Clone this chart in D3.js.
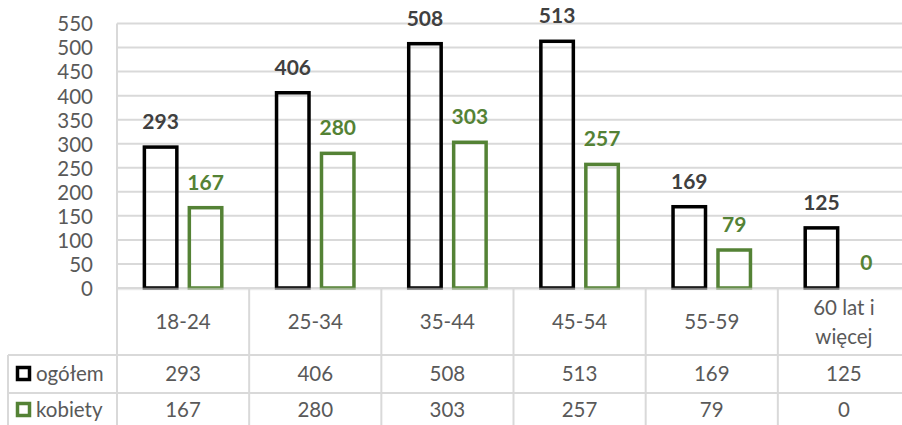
<!DOCTYPE html>
<html>
<head>
<meta charset="utf-8">
<script src="https://cdn.jsdelivr.net/npm/d3@7"></script>
<style>
	body { margin: 0; background: #fff; }
	text { font-family: Lato, "Open Sans", sans-serif; }
</style>
</head>
<body>
<script>
var categories = ["18-24", "25-34", "35-44", "45-54", "55-59", "60 lat i\nwięcej"];
var seriesNames = ["ogółem", "kobiety"];
var ogolem = [293, 406, 508, 513, 169, 125];
var kobiety = [167, 280, 303, 257, 79, 0];
var yTicks = [0, 50, 100, 150, 200, 250, 300, 350, 400, 450, 500, 550];

var w = 902, h = 425;
var colors = { "ogółem": "#000000", "kobiety": "#548235" };
var labelColors = { "ogółem": "#404040", "kobiety": "#548235" };
var values = { "ogółem": ogolem, "kobiety": kobiety };

var svg = d3.select("body")
	.append("svg")
	.attr("width", w)
	.attr("height", h)
	.attr("class", "chart");

var x = d3.scaleBand()
	.domain(categories)
	.range([117, 910]);

var x1 = d3.scaleBand()
	.domain(seriesNames)
	.range([0, x.bandwidth()])
	.paddingInner(0.2)
	.paddingOuter(0.57);

var y = d3.scaleLinear()
	.domain([0, 550])
	.range([288, 23.5]);

//gridlines
svg.append("g")
	.attr("class", "grid")
	.selectAll("line")
	.data(yTicks)
	.enter()
	.append("line")
	.attr("x1", 117)
	.attr("x2", w)
	.attr("y1", function(d){ return y(d); })
	.attr("y2", function(d){ return y(d); })
	.style("stroke", "#d9d9d9")
	.style("stroke-width", 2);

//y axis line
svg.append("line")
	.attr("x1", 117).attr("x2", 117)
	.attr("y1", y(550)).attr("y2", h)
	.style("stroke", "#d9d9d9")
	.style("stroke-width", 2);

//y tick labels
var yAxis = d3.axisLeft(y)
	.tickValues(yTicks)
	.tickSize(0)
	.tickPadding(0);

var yg = svg.append("g")
	.attr("class", "axis")
	.attr("transform", "translate(93,0)")
	.call(yAxis);
yg.select(".domain").remove();
yg.selectAll("text")
	.style("font-family", "Lato, sans-serif")
	.style("font-size", "20.5px")
	.style("fill", "#595959")
	.attr("dy", "0.36em");

//bars
seriesNames.forEach(function(s){
	var data = categories.map(function(c, i){ return { cat: c, v: values[s][i] }; });

	svg.selectAll(".bar-" + s)
		.data(data.filter(function(d){ return d.v > 0; }))
		.enter()
		.append("rect")
		.attr("class", "bar")
		.attr("x", function(d){ return x(d.cat) + x1(s) + 1.75; })
		.attr("width", x1.bandwidth() - 3.5)
		.attr("y", function(d){ return y(d.v); })
		.attr("height", function(d){ return y(0) - y(d.v); })
		.style("fill", "none")
		.style("stroke", colors[s])
		.style("stroke-width", 3.5);

	svg.selectAll(".lbl-" + s)
		.data(data)
		.enter()
		.append("text")
		.attr("class", "label")
		.attr("text-anchor", "middle")
		.attr("x", function(d){ return x(d.cat) + x1(s) + x1.bandwidth() / 2; })
		.attr("y", function(d){ return y(d.v) - 18; })
		.style("font-size", "21px")
		.style("font-weight", "bold")
		.style("fill", labelColors[s])
		.text(function(d){ return d.v; });
});

//axis line over bar bottoms
svg.append("line")
	.attr("x1", 117).attr("x2", w)
	.attr("y1", y(0) + 1).attr("y2", y(0) + 1)
	.style("stroke", "#d9d9d9")
	.style("stroke-width", 2.5)
	.style("opacity", 0.55);

//data table
var table = svg.append("g").attr("class", "table");

table.selectAll(".hline")
	.data([355, 393])
	.enter()
	.append("line")
	.attr("x1", 8).attr("x2", w)
	.attr("y1", function(d){ return d; })
	.attr("y2", function(d){ return d; })
	.style("stroke", "#d9d9d9")
	.style("stroke-width", 2);

table.selectAll(".vline")
	.data(categories.slice(1))
	.enter()
	.append("line")
	.attr("x1", function(d){ return x(d); })
	.attr("x2", function(d){ return x(d); })
	.attr("y1", 288).attr("y2", h)
	.style("stroke", "#d9d9d9")
	.style("stroke-width", 2);

table.append("line")
	.attr("x1", 8).attr("x2", 8)
	.attr("y1", 355).attr("y2", h)
	.style("stroke", "#d9d9d9")
	.style("stroke-width", 2);

//category labels
table.selectAll(".cat")
	.data(categories)
	.enter()
	.append("text")
	.attr("class", "cat")
	.attr("text-anchor", "middle")
	.attr("x", function(d){ return x(d) + x.bandwidth() / 2; })
	.attr("y", function(d){ return d.indexOf("\n") > -1 ? 308 : 322; })
	.style("font-size", "20.5px")
	.style("fill", "#595959")
	.each(function(d){
		var parts = d.split("\n");
		var t = d3.select(this);
		parts.forEach(function(p, i){
			t.append("tspan")
				.attr("x", x(d) + x.bandwidth() / 2)
				.attr("dy", i == 0 ? "0.36em" : "29")
				.text(p);
		});
	});

//value rows
var rowMid = [374, 410];
seriesNames.forEach(function(s, r){
	table.selectAll(".val-" + r)
		.data(values[s])
		.enter()
		.append("text")
		.attr("text-anchor", "middle")
		.attr("x", function(d, i){ return x(categories[i]) + x.bandwidth() / 2; })
		.attr("y", rowMid[r])
		.attr("dy", "0.36em")
		.style("font-size", "20.5px")
		.style("fill", "#595959")
		.text(function(d){ return d; });

	table.append("rect")
		.attr("x", 17.5).attr("y", rowMid[r] - 6.5)
		.attr("width", 12).attr("height", 12)
		.style("fill", "none")
		.style("stroke", colors[s])
		.style("stroke-width", 3.5);

	table.append("text")
		.attr("x", 36)
		.attr("y", rowMid[r])
		.attr("dy", "0.36em")
		.style("font-size", "20.5px")
		.style("fill", "#595959")
		.text(s);
});
</script>
</body>
</html>
